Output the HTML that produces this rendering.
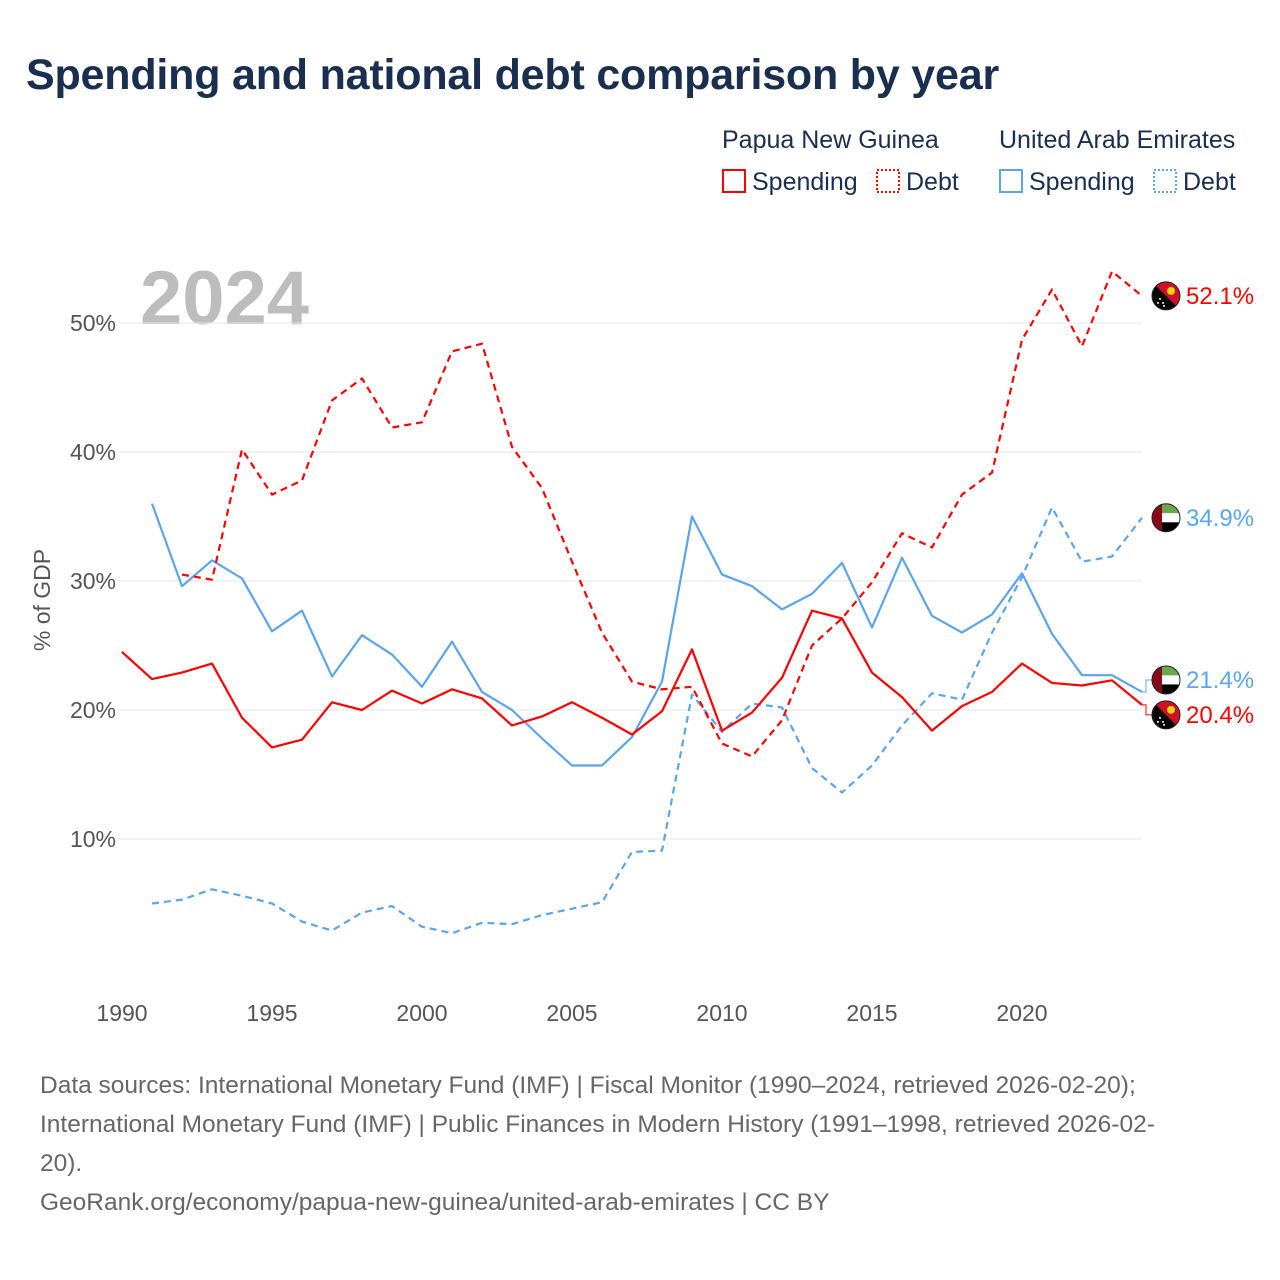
<!DOCTYPE html>
<html><head><meta charset="utf-8"><style>
body{margin:0;background:#fff;font-family:"Liberation Sans",sans-serif;}
#wrap{position:relative;width:1280px;height:1280px;overflow:hidden;}
h1{position:absolute;left:26px;top:51px;margin:0;font-size:43px;font-weight:bold;color:#1a2e4f;letter-spacing:-0.2px;}
.src{position:absolute;left:40px;top:1066px;font-size:24.5px;line-height:39px;color:#666;width:1220px;}
</style></head><body>
<div id="wrap">
<h1>Spending and national debt comparison by year</h1>
<svg id="chart" width="1280" height="1280" style="position:absolute;left:0;top:0">
<defs><clipPath id="fc"><circle cx="0" cy="0" r="14"/></clipPath></defs>
<g font-size="25" fill="#1a2e4f">
<text x="722" y="148">Papua New Guinea</text>
<text x="999" y="148">United Arab Emirates</text>
<rect x="723" y="170" width="22" height="22" fill="none" stroke="#f00" stroke-width="2"/>
<text x="752" y="190">Spending</text>
<rect x="877" y="170" width="22" height="22" fill="none" stroke="#f00" stroke-width="2" stroke-dasharray="2,2"/>
<text x="906" y="190">Debt</text>
<rect x="1000" y="170" width="22" height="22" fill="none" stroke="#5aa5ec" stroke-width="2"/>
<text x="1029" y="190">Spending</text>
<rect x="1154" y="170" width="22" height="22" fill="none" stroke="#5aa5ec" stroke-width="2" stroke-dasharray="2,2"/>
<text x="1183" y="190">Debt</text>
</g>
<text x="140" y="324" font-size="76" font-weight="bold" fill="#bdbdbd">2024</text>
<text transform="translate(50,600) rotate(-90)" text-anchor="middle" font-size="23" fill="#555">% of GDP</text>
<g id="grid"></g><g id="series"></g><g id="labels"></g>
</svg>
<div class="src">Data sources: International Monetary Fund (IMF) | Fiscal Monitor (1990–2024, retrieved 2026-02-20);<br>International Monetary Fund (IMF) | Public Finances in Modern History (1991–1998, retrieved 2026-02-<br>20).<br>GeoRank.org/economy/papua-new-guinea/united-arab-emirates | CC BY</div>
</div>
<script>
const yTicks=[10,20,30,40,50];
const xTicks=[1990,1995,2000,2005,2010,2015,2020];
const pngSpendYears=[1990,1991,1992,1993,1994,1995,1996,1997,1998,1999,2000,2001,2002,2003,2004,2005,2006,2007,2008,2009,2010,2011,2012,2013,2014,2015,2016,2017,2018,2019,2020,2021,2022,2023,2024];
const pngSpend=[24.5,22.4,22.9,23.6,19.4,17.1,17.7,20.6,20.0,21.5,20.5,21.6,20.9,18.8,19.5,20.6,19.4,18.1,19.9,24.7,18.4,19.8,22.5,27.7,27.1,22.9,21.0,18.4,20.3,21.4,23.6,22.1,21.9,22.3,20.4];
const pngDebtYears=[1992,1993,1994,1995,1996,1997,1998,1999,2000,2001,2002,2003,2004,2005,2006,2007,2008,2009,2010,2011,2012,2013,2014,2015,2016,2017,2018,2019,2020,2021,2022,2023,2024];
const pngDebt=[30.5,30.1,40.2,36.7,37.8,44.0,45.7,41.9,42.3,47.8,48.4,40.4,37.2,31.5,26.0,22.2,21.6,21.8,17.4,16.4,19.2,25.0,27.1,29.9,33.7,32.6,36.7,38.4,48.7,52.6,48.2,54.0,52.1];
const uaeYears=[1991,1992,1993,1994,1995,1996,1997,1998,1999,2000,2001,2002,2003,2004,2005,2006,2007,2008,2009,2010,2011,2012,2013,2014,2015,2016,2017,2018,2019,2020,2021,2022,2023,2024];
const uaeSpend=[36.0,29.6,31.6,30.2,26.1,27.7,22.6,25.8,24.3,21.8,25.3,21.4,20.0,17.8,15.7,15.7,17.9,22.2,35.0,30.5,29.6,27.8,29.0,31.4,26.4,31.8,27.3,26.0,27.4,30.6,25.9,22.7,22.7,21.4];
const uaeDebt=[5.0,5.3,6.1,5.6,5.0,3.6,2.9,4.3,4.8,3.2,2.7,3.5,3.4,4.1,4.6,5.1,9.0,9.1,21.2,18.3,20.5,20.2,15.5,13.6,15.7,18.8,21.3,20.8,26.0,30.3,35.7,31.5,31.9,34.9];
const NS='http://www.w3.org/2000/svg';
const X=y=>122+(y-1990)*30;
const Y=v=>968-v*12.9;
function mk(t,a,p){const e=document.createElementNS(NS,t);for(const k in a)e.setAttribute(k,a[k]);p.appendChild(e);return e;}
const grid=document.getElementById('grid');
yTicks.forEach(v=>{
 const l=mk('line',{x1:118,x2:1142,y1:Y(v),y2:Y(v),stroke:'#e6e6e6','stroke-width':1},grid);
 
 
 const t=mk('text',{x:116,y:Y(v)+8,'text-anchor':'end','font-size':23,fill:'#555'},grid);
 t.textContent=v+'%';
 
 
});
xTicks.forEach(y=>{
 const t=mk('text',{x:X(y),y:1021,'text-anchor':'middle','font-size':23,fill:'#555'},grid);
 t.textContent=y;
 
 
});
const ser=document.getElementById('series');
function line(years,vals,color,dash,name){
 const d=vals.map((v,i)=>(i?'L':'M')+X(years[i])+','+Y(v)).join(' ');
 const p=mk('path',{d:d,fill:'none',stroke:color,'stroke-width':2.2,'stroke-linejoin':'round'},ser);
 if(dash)p.setAttribute('stroke-dasharray','7,5');
 
 
}
line(uaeYears,uaeDebt,'#5aa5ec',true,'uae-debt-line');
line(uaeYears,uaeSpend,'#5aa5ec',false,'uae-spending-line');
line(pngDebtYears,pngDebt,'#f00',true,'png-debt-line');
line(pngSpendYears,pngSpend,'#f00',false,'png-spending-line');
const lab=document.getElementById('labels');
function flag(cy,type,name){
 const outer=mk('g',{transform:`translate(1166,${cy})`},lab);
 
 
 const g=mk('g',{'clip-path':'url(#fc)'},outer);
 if(type==='png'){
  mk('rect',{x:-14,y:-14,width:28,height:28,fill:'#000'},g);
  mk('path',{d:'M-14,-14 L14,-14 L14,14 Z',fill:'#ce1126'},g);
  mk('circle',{cx:5,cy:-5,r:4,fill:'#fcd116'},g);
  [[-6,3],[-3,7],[-8,7],[-2,10]].forEach(p=>mk('circle',{cx:p[0],cy:p[1],r:1,fill:'#fff'},g));
 }else{
  mk('rect',{x:-14,y:-14,width:28,height:9.5,fill:'#6aa84f'},g);
  mk('rect',{x:-14,y:-4.5,width:28,height:9,fill:'#fff'},g);
  mk('rect',{x:-14,y:4.5,width:28,height:9.5,fill:'#000'},g);
  mk('rect',{x:-14,y:-14,width:10,height:28,fill:'#8b0a1a'},g);
 }
 mk('circle',{cx:0,cy:0,r:14,fill:'none',stroke:'#222','stroke-width':1},outer);
}
function endLabel(v,cy,color,type,name){
 flag(cy,type,name+'-flag');
 const t=mk('text',{x:1186,y:cy+8,'font-size':24,fill:color},lab);
 t.textContent=v.toFixed(1)+'%';
 
 
}
const pd=pngDebt[pngDebt.length-1],us=uaeSpend[uaeSpend.length-1],ud=uaeDebt[uaeDebt.length-1],ps=pngSpend[pngSpend.length-1];
endLabel(pd,Y(pd),'#f00','png','label-png-debt');
endLabel(ud,Y(ud),'#5aa5ec','uae','label-uae-debt');
mk('path',{d:`M1142,${Y(us)} L1146,${Y(us)} L1146,${Y(us)-12} L1152,${Y(us)-12}`,fill:'none',stroke:'#5aa5ec'},lab);
mk('path',{d:`M1142,${Y(ps)} L1146,${Y(ps)} L1146,${Y(ps)+10} L1152,${Y(ps)+10}`,fill:'none',stroke:'#f00'},lab);
endLabel(us,Y(us)-12,'#5aa5ec','uae','label-uae-spending');
endLabel(ps,Y(ps)+10,'#f00','png','label-png-spending');
</script>
</body></html>
